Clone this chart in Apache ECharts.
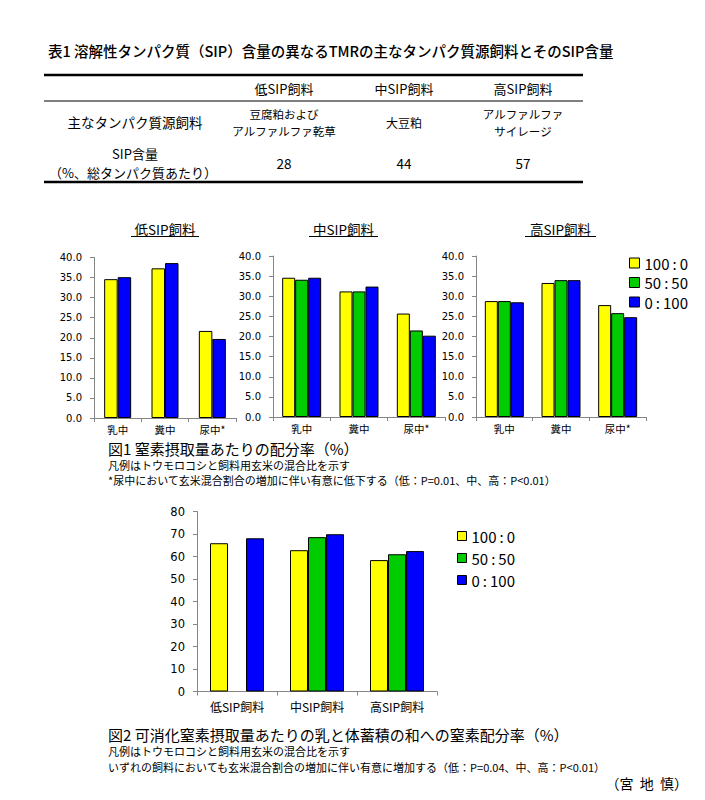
<!DOCTYPE html>
<html>
<head>
<meta charset="utf-8">
<script src="https://cdn.jsdelivr.net/npm/echarts@6/dist/echarts.min.js"></script>
<style>
  html, body { margin: 0; padding: 0; background: #fff; }
  #main { width: 705px; height: 800px; }
</style>
</head>
<body>
<div id="main"></div>
<script>
// 表1
const tableHeads = ['低SIP飼料', '中SIP飼料', '高SIP飼料'];
const tableFeeds = [['豆腐粕および', 'アルファルファ乾草'], ['大豆粕'], ['アルファルファ', 'サイレージ']];
const tableSip = [28, 44, 57];

// 図1 窒素摂取量あたりの配分率
const partCats = ['乳中', '糞中', '尿中*'];
const lowYellow = [34.6, 37.3, 21.7];
const lowBlue = [35.1, 38.6, 19.7];
const midYellow = [34.6, 31.2, 25.7];
const midGreen = [34.1, 31.2, 21.5];
const midBlue = [34.6, 32.4, 20.2];
const highYellow = [28.8, 33.3, 27.8];
const highGreen = [28.8, 34.0, 25.8];
const highBlue = [28.5, 34.0, 24.8];

// 図2 乳と体蓄積の和への窒素配分率
const feedCats = ['低SIP飼料', '中SIP飼料', '高SIP飼料'];
const sumYellow = [65.9, 62.8, 58.4];
const sumGreen = [null, 68.6, 61.0];
const sumBlue = [68.1, 69.9, 62.4];

const mixNames = ['100：0', '50：50', '0：100'];
const mixColors = ['#ffff00', '#00cc00', '#0000ff'];

const jp = '"Noto Sans CJK JP", sans-serif';
const axisGrey = '#868686';

// 表と図の文字
let graphics = [];
function txt(x, y, s, size, align, extra) {
    graphics.push({
        type: 'text', x: x, y: y, silent: true,
        style: Object.assign({
            text: s, fontSize: size, fontFamily: jp, fill: '#000',
            textAlign: align || 'left', textVerticalAlign: 'middle', lineHeight: Math.ceil(size)
        }, extra || {})
    });
}
function hline(x1, x2, y, w) {
    graphics.push({
        type: 'line', silent: true,
        shape: { x1: x1, y1: y, x2: x2, y2: y },
        style: { stroke: '#000', lineWidth: w }
    });
}

txt(48, 50, '表1 溶解性タンパク質（SIP）含量の異なるTMRの主なタンパク質源飼料とそのSIP含量', 14.5, 'left', { fontWeight: 500 });
hline(44, 583, 75, 2.5);
hline(44, 583, 101, 1);
hline(44, 583, 182, 2.5);
const colX = [284, 404, 523];
tableHeads.forEach((h, i) => txt(colX[i], 88, h, 13, 'center'));
txt(135, 122, '主なタンパク質源飼料', 13.5, 'center');
tableFeeds.forEach((lines, i) => {
    if (lines.length === 1) {
        txt(colX[i], 122, lines[0], 12, 'center');
    } else {
        txt(colX[i], 113.5, lines[0], 11.5, 'center');
        txt(colX[i], 131, lines[1], 11.5, 'center');
    }
});
txt(135, 153.5, 'SIP含量', 13, 'center');
txt(133, 172, '（%、総タンパク質あたり）', 13, 'center');
tableSip.forEach((v, i) => txt(colX[i], 163, String(v), 13.5, 'center'));

// 小グラフの見出し（下線付き）
const subTitles = [['低SIP飼料', 165, 131, 199], ['中SIP飼料', 343.5, 309, 378], ['高SIP飼料', 560.5, 525, 596]];
subTitles.forEach(t => {
    txt(t[1], 229, t[0], 13.5, 'center');
    hline(t[2], t[3], 236.5, 1);
});

txt(108, 448, '図1 窒素摂取量あたりの配分率（%）', 15, 'left');
txt(108, 465, '凡例はトウモロコシと飼料用玄米の混合比を示す', 11, 'left');
txt(108, 480, '*尿中において玄米混合割合の増加に伴い有意に低下する（低：P=0.01、中、高：P<0.01）', 11, 'left');

txt(108, 734, '図2 可消化窒素摂取量あたりの乳と体蓄積の和への窒素配分率（%）', 15, 'left');
txt(108, 751, '凡例はトウモロコシと飼料用玄米の混合比を示す', 11, 'left');
txt(108, 766.5, 'いずれの飼料においても玄米混合割合の増加に伴い有意に増加する（低：P=0.04、中、高：P<0.01）', 11, 'left');
txt(688, 783, '（宮  地  慎）', 14, 'right');

// 軸
function xAx(grid, cats, size, margin) {
    return {
        type: 'category', gridIndex: grid, data: cats,
        axisLine: { lineStyle: { color: axisGrey, width: 1 } },
        axisTick: { show: true, length: 4, lineStyle: { color: axisGrey } },
        axisLabel: { color: '#000', fontSize: size, fontFamily: jp, margin: margin, interval: 0 }
    };
}
function yAx(grid, max, step, digits, size) {
    return {
        type: 'value', gridIndex: grid, min: 0, max: max, interval: step,
        axisLine: { show: true, lineStyle: { color: axisGrey, width: 1 } },
        axisTick: { show: true, length: 4, lineStyle: { color: axisGrey } },
        splitLine: { show: false },
        axisLabel: {
            color: '#000', fontSize: size, fontFamily: '"DejaVu Sans", sans-serif', margin: 12,
            formatter: v => v.toFixed(digits)
        }
    };
}
function bar(name, idx, grid, data, width) {
    return {
        type: 'bar', name: name, xAxisIndex: grid, yAxisIndex: grid, data: data,
        barWidth: width, barGap: '0%',
        itemStyle: { color: mixColors[idx], borderColor: '#000', borderWidth: 1 },
        emphasis: { disabled: true }
    };
}

function legendAt(left, top, gap, box) {
    return {
        orient: 'vertical', left: left, top: top, itemGap: gap,
        itemWidth: box, itemHeight: box, icon: 'rect', itemTextGap: 4,
        selectedMode: false,
        data: mixNames,
        formatter: n => n.replace('：', '\u2009:\u2009'),
        itemStyle: { borderColor: '#000', borderWidth: 1 },
        textStyle: { fontSize: 15, fontFamily: jp, color: '#000', lineHeight: 16 }
    };
}

let option = {
    animation: false,
    graphic: graphics,
    legend: [legendAt(624, 250, 3.5, 10), legendAt(452, 523, 6, 9)],
    grid: [
        { left: 94, top: 257.5, width: 142, height: 160.5 },
        { left: 273, top: 256, width: 172, height: 161 },
        { left: 476, top: 256, width: 170, height: 161 },
        { left: 197, top: 511.5, width: 240, height: 180 }
    ],
    xAxis: [xAx(0, partCats, 10.5, 6), xAx(1, partCats, 10.5, 6), xAx(2, partCats, 10.5, 6), xAx(3, feedCats, 12, 9)],
    yAxis: [yAx(0, 40, 5, 1, 10), yAx(1, 40, 5, 1, 10), yAx(2, 40, 5, 1, 10), yAx(3, 80, 10, 0, 11.5)],
    series: [
        bar(mixNames[0], 0, 0, lowYellow, 13.5),
        bar(mixNames[2], 2, 0, lowBlue, 13.5),
        bar(mixNames[0], 0, 1, midYellow, 13),
        bar(mixNames[1], 1, 1, midGreen, 13),
        bar(mixNames[2], 2, 1, midBlue, 13),
        bar(mixNames[0], 0, 2, highYellow, 13),
        bar(mixNames[1], 1, 2, highGreen, 13),
        bar(mixNames[2], 2, 2, highBlue, 13),
        bar(mixNames[0], 0, 3, sumYellow, 18),
        bar(mixNames[1], 1, 3, sumGreen, 18),
        bar(mixNames[2], 2, 3, sumBlue, 18)
    ]
};

var chart = echarts.init(document.getElementById('main'), null, { renderer: 'svg' });
chart.setOption(option);
</script>
</body>
</html>
